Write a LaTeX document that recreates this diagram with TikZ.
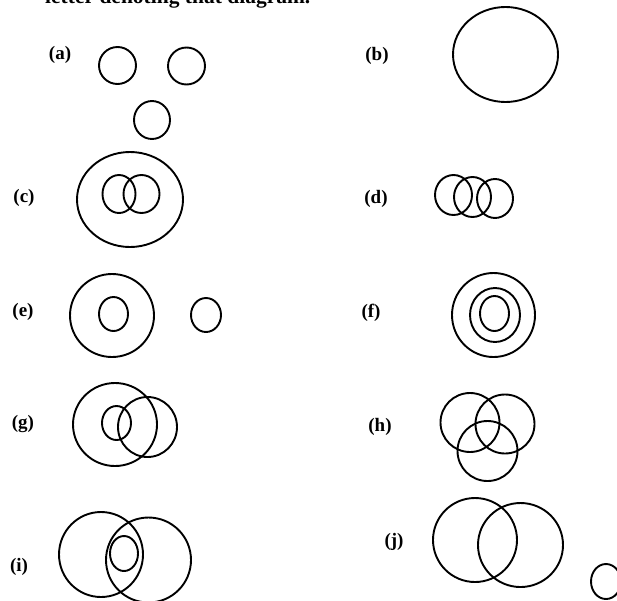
\documentclass[tikz,border=0pt]{standalone}
\usepackage{fontspec}
\setmainfont{Liberation Serif}
\usepackage{tikz}
\tikzset{
    ring/.style={
        draw,
        line width=1.9pt
    },
    tag/.style={
        font=\bfseries\fontsize{19}{19}\selectfont,
        inner sep=0pt
    }
}

\begin{document}
\begin{tikzpicture}[
    x=1pt,
    y=-1pt
]

    \useasboundingbox (0,0) rectangle (617,600);
    \clip (0,0) rectangle (617,600);

    % Encabezado cortado
    \node[tag, anchor=base west, font=\bfseries\fontsize{21.5}{21.5}\selectfont]
        (head) at (45,3) {letter denoting that diagram.};

    % Rotulos
    \node[tag] (la) at (60,55)   {(a)};
    \node[tag] (lb) at (377,56)  {(b)};
    \node[tag] (lc) at (24,198)  {(c)};
    \node[tag] (ld) at (376,199) {(d)};
    \node[tag] (le) at (23,312)  {(e)};
    \node[tag] (lf) at (371,313) {(f)};
    \node[tag] (lg) at (23,424)  {(g)};
    \node[tag] (lh) at (380,427) {(h)};
    \node[tag] (li) at (19,567)  {(i)};
    \node[tag] (lj) at (394,542) {(j)};

    % (a) tres conjuntos disjuntos
    \draw[ring] (117.5,65.5) circle (18.5);
    \draw[ring] (186.5,66)   circle (18.5);
    \draw[ring] (152,120)    ellipse (18 and 19);

    % (b) un solo conjunto
    \draw[ring] (505.5,54.5) ellipse (52.5 and 47.5);

    % (c) dos que se cortan dentro de otro
    \draw[ring] (130,199.5) ellipse (53 and 47.5);
    \draw[ring] (119,194)   ellipse (16.5 and 19);
    \draw[ring] (141.5,194) ellipse (18 and 19);

    % (d) cadena de tres
    \draw[ring] (453.5,195) ellipse (18.5 and 20);
    \draw[ring] (472.5,197) ellipse (18.5 and 20);
    \draw[ring] (495,198.5) ellipse (18 and 19.5);

    % (e) uno dentro de otro, y uno aparte
    \draw[ring] (112,315.5) ellipse (42 and 41.5);
    \draw[ring] (113.5,314) ellipse (14.5 and 17);
    \draw[ring] (206,315)   ellipse (15 and 17);

    % (f) tres concentricos
    \draw[ring] (493.5,315) ellipse (41.5 and 42);
    \draw[ring] (495,315)   ellipse (25 and 27);
    \draw[ring] (494.5,313.5) ellipse (14.5 and 17.5);

    % (g)
    \draw[ring] (115,424.5) ellipse (42 and 41.5);
    \draw[ring] (116.5,423) ellipse (14.5 and 17);
    \draw[ring] (147.5,427) ellipse (29.5 and 30);

    % (h) tres que se cortan
    \draw[ring] (470,422.5) circle (29.5);
    \draw[ring] (505,424)   circle (29.5);
    \draw[ring] (487.5,451) circle (30);

    % (i)
    \draw[ring] (101,554.5) ellipse (42 and 42.5);
    \draw[ring] (148.5,560) ellipse (42.5 and 42.5);
    \draw[ring] (124,553.5) ellipse (14 and 17.5);

    % (j)
    \draw[ring] (475,540)   circle (42);
    \draw[ring] (520.5,545) ellipse (42.5 and 42);
    \draw[ring] (606,581.5) ellipse (15 and 17.5);

\end{tikzpicture}
\end{document}
